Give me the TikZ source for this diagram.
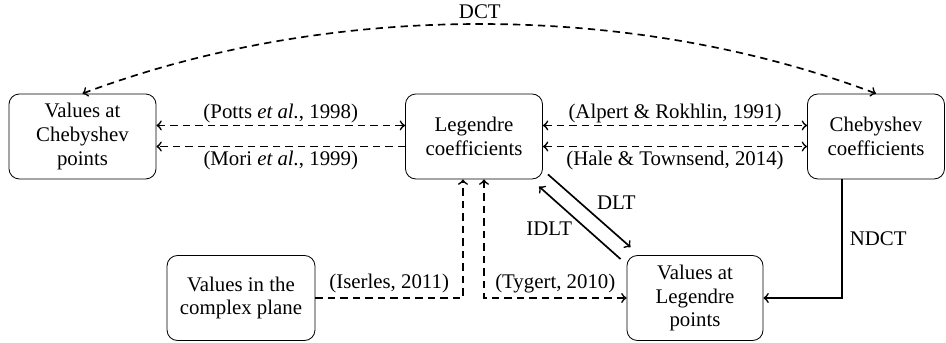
\documentclass[tikz,border=0pt]{standalone}
\usepackage{fontspec}
\setmainfont{Liberation Serif}
\newfontfamily\diagfont{Liberation Serif}
\usetikzlibrary{arrows}

\tikzset{
  every node/.style={font=\diagfont\fontsize{10}{11.5}\selectfont},
  box/.style={draw, rounded corners=5pt, align=center, minimum height=40.8pt, inner sep=2pt},
  link/.style={thick, ->},
  dlink/.style={thick, dash pattern=on 3.5pt off 2.5pt, ->},
}

\begin{document}
\begin{tikzpicture}[x=0.48pt,y=-0.48pt]
  \useasboundingbox (0,0) rectangle (946,343);
  % Define the boxes
  \node[box, minimum width=70.6pt] (chebval) at (82.5,136.5) {Values at\\Chebyshev\\points};
  \node[box, minimum width=65.8pt] (legcoef) at (474,136.5) {Legendre\\coefficients};
  \node[box, minimum width=65.8pt] (chebcoef) at (876,136.5) {Chebyshev\\coefficients};
  \node[box, minimum width=65.3pt] (legval) at (695,298) {Values at\\Legendre\\points};
  \node[box, minimum width=71pt] (cplane) at (241,298) {Values in the\\complex plane};
  % Top curve
  \draw[dlink, <->] (chebcoef.north) .. controls (631,1) and (329,1) .. (chebval.north)
    node[midway, above, inner sep=2pt] {DCT};
  % Horizontal links
  \draw[dlink, <->] ([yshift=5.3pt]chebval.east) -- ([yshift=5.3pt]legcoef.west)
    node[midway, above, inner sep=1pt] {(Potts \textit{et al.}, 1998)};
  \draw[dlink] ([yshift=-4.8pt]legcoef.west) -- ([yshift=-4.8pt]chebval.east)
    node[midway, below, inner sep=2pt] {(Mori \textit{et al.}, 1999)};
  \draw[dlink, <->] ([yshift=5.3pt]legcoef.east) -- ([yshift=5.3pt]chebcoef.west)
    node[midway, above, inner sep=1pt] {(Alpert \& Rokhlin, 1991)};
  \draw[dlink, <->] ([yshift=-4.8pt]legcoef.east) -- ([yshift=-4.8pt]chebcoef.west)
    node[midway, below, inner sep=2pt] {(Hale \& Townsend, 2014)};
  % Diagonal links
  \draw[link] ([shift={(2.4pt,2.4pt)}]legcoef.south east) -- ([shift={(1.9pt,3.8pt)}]legval.north west)
    node[midway, above right, yshift=-2.9pt] {DLT};
  \draw[link] ([shift={(-2.9pt,-1.9pt)}]legval.north west) -- ([shift={(-1.9pt,-3.4pt)}]legcoef.south east)
    node[midway, below left, yshift=4.3pt] {IDLT};
  % Bottom links
  \draw[dlink] (cplane.east) -| ([xshift=-5.3pt]legcoef.south)
    node[pos=0.25, above, inner sep=2pt] {(Iserles, 2011)};
  \draw[dlink, <->] ([xshift=4.8pt]legcoef.south) |- (legval.west)
    node[pos=0.75, above, inner sep=2pt] {(Tygert, 2010)};
  \draw[link] ([xshift=-16.3pt]chebcoef.south) |- (legval.east)
    node[pos=0.25, right] {NDCT};
\end{tikzpicture}
\end{document}
